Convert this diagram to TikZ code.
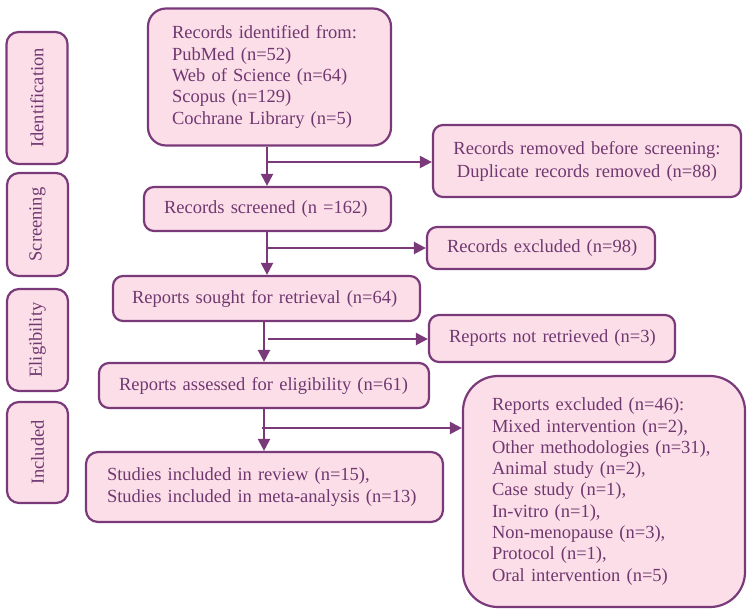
\documentclass[tikz,border=0pt]{standalone}
\usepackage{fontspec}
\setmainfont{Liberation Serif}
\usetikzlibrary{arrows.meta}
\definecolor{boxfill}{RGB}{252,222,232}
\definecolor{boxline}{RGB}{122,58,122}
\definecolor{txt}{RGB}{112,56,112}
\begin{document}
\begin{tikzpicture}[x=1pt,y=-1pt,
  box/.style={draw=boxline, fill=boxfill, line width=2.2pt, rounded corners=10pt,
    text=txt, font=\fontsize{18.5}{21.3}\selectfont, inner ysep=0pt, anchor=center},
  side/.style={box, rotate=90, minimum height=61pt, rounded corners=12pt, inner xsep=0pt},
  arr/.style={draw=boxline, line width=2.2pt, -{Triangle[length=12pt,width=12pt]}}]
\useasboundingbox (0,0) rectangle (754,611);

% stage labels
\node[side, minimum width=132pt] (sid) at (37,98) {Identification};
\node[side, minimum width=103pt] (ssc) at (37.5,224.5) {Screening};
\node[side, minimum width=102pt] (sel) at (37.5,340) {Eligibility};
\node[side, minimum width=101pt] (sin) at (37.5,452.5) {Included};

% main column
\node[box, rounded corners=18pt, minimum width=243pt, minimum height=137pt,
  text width=195pt, inner xsep=24pt, align=left] (ident) at (269.5,77)
  {Records identified from:\\PubMed (n=52)\\Web of Science (n=64)\\Scopus (n=129)\\Cochrane Library (n=5)};
\node[box, minimum width=247pt, minimum height=44pt,
  text width=207pt, inner xsep=20pt, align=left] (screened) at (267.5,209)
  {\mbox{Records screened (n =162)}};
\node[box, minimum width=307pt, minimum height=45pt,
  text width=269pt, inner xsep=19pt, align=left] (sought) at (266.5,298.5)
  {\mbox{Reports sought for retrieval (n=64)}};
\node[box, minimum width=330pt, minimum height=45pt,
  text width=290pt, inner xsep=20pt, align=left] (assessed) at (264,385.5)
  {\mbox{Reports assessed for eligibility (n=61)}};
\node[box, rounded corners=12pt, minimum width=357pt, minimum height=70pt,
  text width=315pt, inner xsep=21pt, align=left] (included) at (264.5,487)
  {Studies included in review (n=15),\\\mbox{Studies included in meta-analysis (n=13)}};

% right column
\node[box, font=\fontsize{18.5}{23}\selectfont, minimum width=308pt, minimum height=72pt,
  text width=290pt, inner xsep=9pt, align=center] (removed) at (587,161)
  {Records removed before screening:\\Duplicate records removed (n=88)};
\node[box, minimum width=228pt, minimum height=42pt,
  text width=188pt, inner xsep=20pt, align=left] (excluded) at (541,248)
  {\mbox{Records excluded (n=98)}};
\node[box, minimum width=246pt, minimum height=47pt,
  text width=206pt, inner xsep=20pt, align=left] (notretr) at (552,338.5)
  {\mbox{Reports not retrieved (n=3)}};
\node[box, rounded corners=35pt,
  minimum width=282pt, minimum height=231pt,
  text width=224pt, inner xsep=29pt, align=left] (repexcl) at (604,491.5)
  {Reports excluded (n=46):\\Mixed intervention (n=2),\\Other methodologies (n=31),\\Animal study (n=2),\\Case study (n=1),\\In-vitro (n=1),\\Non-menopause (n=3),\\Protocol (n=1),\\Oral intervention (n=5)};

% spines and branch points
\coordinate (s1) at (267,0);
\coordinate (s2) at (264,0);
\coordinate (b1) at (267,162);
\coordinate (b2) at (267,248);
\coordinate (b3) at (268,339);
\coordinate (b4) at (262,428);

\draw[arr] (ident.south -| s1) -- (screened.north -| s1);
\draw[arr] (b1) -- (b1 -| removed.west);
\draw[arr] (screened.south -| s1) -- (sought.north -| s1);
\draw[arr] (b2) -- (b2 -| excluded.west);
\draw[arr] (sought.south -| s2) -- (assessed.north -| s2);
\draw[arr] (b3) -- (b3 -| notretr.west);
\draw[arr] (assessed.south -| s2) -- (included.north -| s2);
\draw[arr] (b4) -- (b4 -| repexcl.west);
\end{tikzpicture}
\end{document}
